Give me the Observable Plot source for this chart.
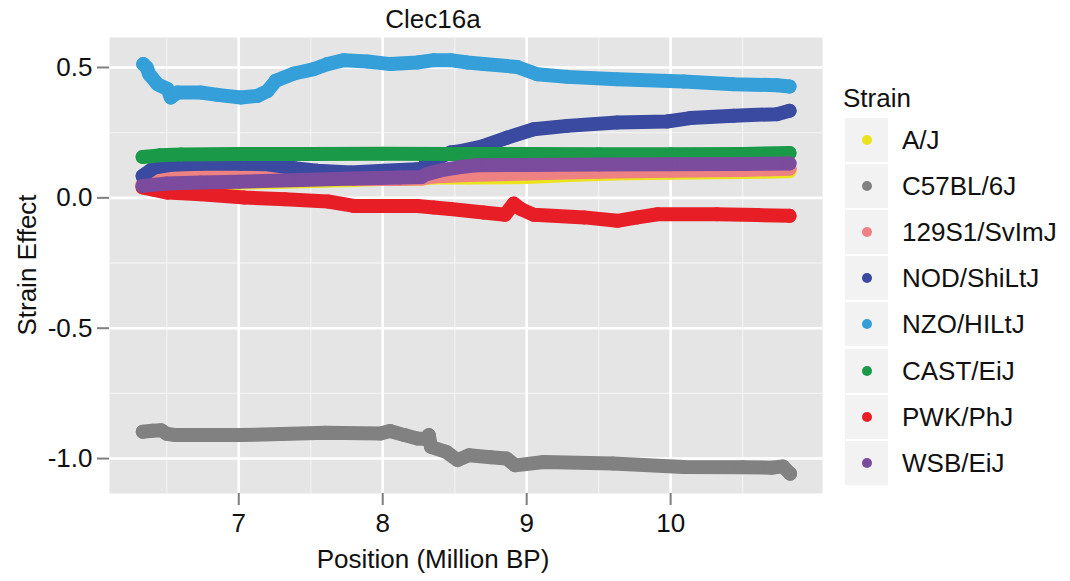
<!DOCTYPE html>
<html>
<head>
<meta charset="utf-8">
<script src="https://cdn.jsdelivr.net/npm/d3@7"></script>
<script src="https://cdn.jsdelivr.net/npm/@observablehq/plot@0.6"></script>
<style>
  body { margin: 0; background: #fff; font-family: "Liberation Sans", Arial, Helvetica, sans-serif; }
  #wrap { position: relative; width: 1070px; height: 581px; overflow: hidden; background: #fff; }
  #plot { position: absolute; left: 0; top: 0; }
  .lbl { position: absolute; font-size: 26px; line-height: 26px; color: #111; white-space: nowrap; }
  #title { left: 0; width: 866px; top: 6px; text-align: center; }
  #xlab { left: 0; width: 866px; top: 546px; text-align: center; }
  #ylab { left: 27px; top: 265px; transform: translate(-50%, -50%) rotate(-90deg); }
  .key { position: absolute; left: 845px; width: 43px; height: 44px; background: #F2F2F2; }
  .key span { position: absolute; left: 16.5px; top: 17px; width: 10px; height: 10px; border-radius: 50%; }
</style>
</head>
<body>
<div id="wrap">
  <div id="plot"></div>
  <div id="title" class="lbl">Clec16a</div>
  <div id="xlab" class="lbl">Position (Million BP)</div>
  <div id="ylab" class="lbl">Strain Effect</div>
  <div id="legend"></div>
</div>
<script>
// ---- Data ----
const strains = ["A/J", "C57BL/6J", "129S1/SvImJ", "NOD/ShiLtJ", "NZO/HILtJ", "CAST/EiJ", "PWK/PhJ", "WSB/EiJ"];
const strainColors = ["#ECE31F", "#818181", "#EE8282", "#3A4AA0", "#349FD9", "#1A9A48", "#E81E26", "#7B4B9E"];

const posAJ = [6.332, 7.0, 7.8, 8.0, 8.27, 8.35, 8.6, 9.0, 9.3, 9.6, 10.0, 10.5, 10.826];
const effAJ = [0.046, 0.058, 0.068, 0.072, 0.074, 0.078, 0.078, 0.080, 0.088, 0.093, 0.096, 0.099, 0.102];

const posB6 = [6.333, 6.40, 6.46, 6.50, 6.56, 7.01, 7.3, 7.6, 7.985, 8.05, 8.15, 8.24, 8.30, 8.32, 8.335, 8.44, 8.52, 8.6, 8.75, 8.86, 8.92, 9.12, 9.6, 10.09, 10.5, 10.7, 10.78, 10.83];
const effB6 = [-0.897, -0.893, -0.891, -0.905, -0.910, -0.910, -0.906, -0.901, -0.904, -0.894, -0.910, -0.923, -0.925, -0.910, -0.955, -0.974, -1.006, -0.987, -0.995, -1.000, -1.026, -1.013, -1.019, -1.032, -1.033, -1.035, -1.030, -1.058];

const pos129 = [6.332, 6.42, 6.6, 7.0, 7.2, 7.5, 7.8, 8.1, 8.27, 8.35, 8.6, 9.0, 9.5, 10.0, 10.5, 10.826];
const eff129 = [0.052, 0.074, 0.080, 0.084, 0.085, 0.078, 0.072, 0.072, 0.074, 0.082, 0.088, 0.093, 0.100, 0.104, 0.107, 0.112];

const posNOD = [6.332, 6.412, 6.528, 6.736, 7.014, 7.2, 7.384, 7.546, 7.777, 8.008, 8.24, 8.29, 8.30, 8.38, 8.47, 8.55, 8.702, 8.865, 9.049, 9.281, 9.628, 9.975, 10.137, 10.437, 10.738, 10.826];
const effNOD = [0.084, 0.116, 0.127, 0.131, 0.131, 0.129, 0.114, 0.104, 0.097, 0.104, 0.110, 0.110, 0.135, 0.150, 0.174, 0.180, 0.199, 0.231, 0.263, 0.276, 0.289, 0.293, 0.306, 0.315, 0.321, 0.334];

const posNZO = [6.336, 6.36, 6.378, 6.436, 6.505, 6.528, 6.575, 6.736, 6.852, 7.014, 7.13, 7.2, 7.257, 7.384, 7.523, 7.616, 7.731, 7.893, 8.055, 8.24, 8.355, 8.471, 8.587, 8.702, 8.934, 9.073, 9.281, 9.628, 10.09, 10.437, 10.738, 10.826];
const effNZO = [0.513, 0.500, 0.474, 0.436, 0.417, 0.385, 0.404, 0.404, 0.395, 0.385, 0.391, 0.410, 0.449, 0.477, 0.494, 0.513, 0.528, 0.523, 0.513, 0.519, 0.528, 0.528, 0.519, 0.513, 0.502, 0.474, 0.464, 0.455, 0.446, 0.436, 0.432, 0.427];

const posCAST = [6.332, 6.45, 6.6, 7.0, 7.5, 8.0, 8.5, 9.0, 9.5, 10.0, 10.5, 10.826];
const effCAST = [0.157, 0.163, 0.166, 0.168, 0.168, 0.169, 0.168, 0.168, 0.167, 0.167, 0.168, 0.172];

const posPWK = [6.332, 6.42, 6.505, 6.736, 7.04, 7.32, 7.62, 7.8, 8.01, 8.24, 8.355, 8.47, 8.70, 8.85, 8.91, 8.96, 9.05, 9.4, 9.63, 9.77, 9.91, 10.32, 10.6, 10.826];
const effPWK = [0.040, 0.030, 0.020, 0.014, 0.001, -0.005, -0.014, -0.031, -0.031, -0.031, -0.037, -0.043, -0.056, -0.065, -0.022, -0.043, -0.065, -0.075, -0.088, -0.075, -0.063, -0.063, -0.066, -0.069];

const posWSB = [6.332, 6.5, 6.736, 7.0, 7.43, 7.8, 8.12, 8.27, 8.30, 8.40, 8.54, 8.65, 9.0, 9.5, 10.0, 10.5, 10.826];
const effWSB = [0.046, 0.055, 0.059, 0.062, 0.068, 0.074, 0.078, 0.080, 0.090, 0.105, 0.118, 0.125, 0.126, 0.128, 0.129, 0.130, 0.132];

const xMajor = [7, 8, 9, 10];
const xMinor = [6.5, 7.5, 8.5, 9.5, 10.5];
const yMajor = [-1.0, -0.5, 0.0, 0.5];
const yMinor = [-0.75, -0.25, 0.25];

// ---- Build series table ----
const positions = [posAJ, posB6, pos129, posNOD, posNZO, posCAST, posPWK, posWSB];
const effects = [effAJ, effB6, eff129, effNOD, effNZO, effCAST, effPWK, effWSB];
const series = strains.map((s, i) => positions[i].map((p, j) => ({strain: s, pos: p, eff: effects[i][j]})));

const strainMarks = series.flatMap((rows, i) => [
  Plot.line(rows, {x: "pos", y: "eff", stroke: strainColors[i], strokeWidth: 14, strokeLinecap: "round", strokeLinejoin: "round"}),
  Plot.dot(rows, {x: "pos", y: "eff", fill: strainColors[i], r: 7})
]);

const chart = Plot.plot({
  width: 830,
  height: 581,
  marginLeft: 109,
  marginRight: 8,
  marginTop: 37,
  marginBottom: 88,
  style: {fontSize: "26px", fontFamily: '"Liberation Sans", Arial, Helvetica, sans-serif', color: "#111", background: "transparent", overflow: "visible"},
  x: {domain: [6.102, 11.055], label: null},
  y: {domain: [-1.134, 0.615], label: null},
  marks: [
    Plot.frame({fill: "#E5E5E5", stroke: "none"}),
    Plot.ruleX(xMinor, {stroke: "#F2F2F2", strokeWidth: 1.3}),
    Plot.ruleY(yMinor, {stroke: "#F2F2F2", strokeWidth: 1.3}),
    Plot.ruleX(xMajor, {stroke: "#FFFFFF", strokeWidth: 2.6}),
    Plot.ruleY(yMajor, {stroke: "#FFFFFF", strokeWidth: 2.6}),
    Plot.axisX(xMajor, {tickSize: 12, tickPadding: 8, stroke: "#7F7F7F", strokeWidth: 2, fill: "#111", label: null, tickFormat: d => String(d)}),
    Plot.axisY(yMajor, {tickSize: 12, tickPadding: 5, stroke: "#7F7F7F", strokeWidth: 2, fill: "#111", label: null, tickFormat: d => d.toFixed(1)}),
    ...strainMarks
  ]
});
document.getElementById("plot").appendChild(chart);

// ---- Legend ----
const legend = document.getElementById("legend");
const lt = document.createElement("div");
lt.className = "lbl";
lt.style.left = "843px";
lt.style.top = "85px";
lt.textContent = "Strain";
legend.appendChild(lt);
strains.forEach((s, i) => {
  const top = 118 + 46.1 * i;
  const key = document.createElement("div");
  key.className = "key";
  key.style.top = top + "px";
  const dot = document.createElement("span");
  dot.style.background = strainColors[i];
  key.appendChild(dot);
  legend.appendChild(key);
  const t = document.createElement("div");
  t.className = "lbl";
  t.style.left = "902px";
  t.style.top = (top + 9) + "px";
  t.textContent = s;
  legend.appendChild(t);
});
</script>
</body>
</html>
